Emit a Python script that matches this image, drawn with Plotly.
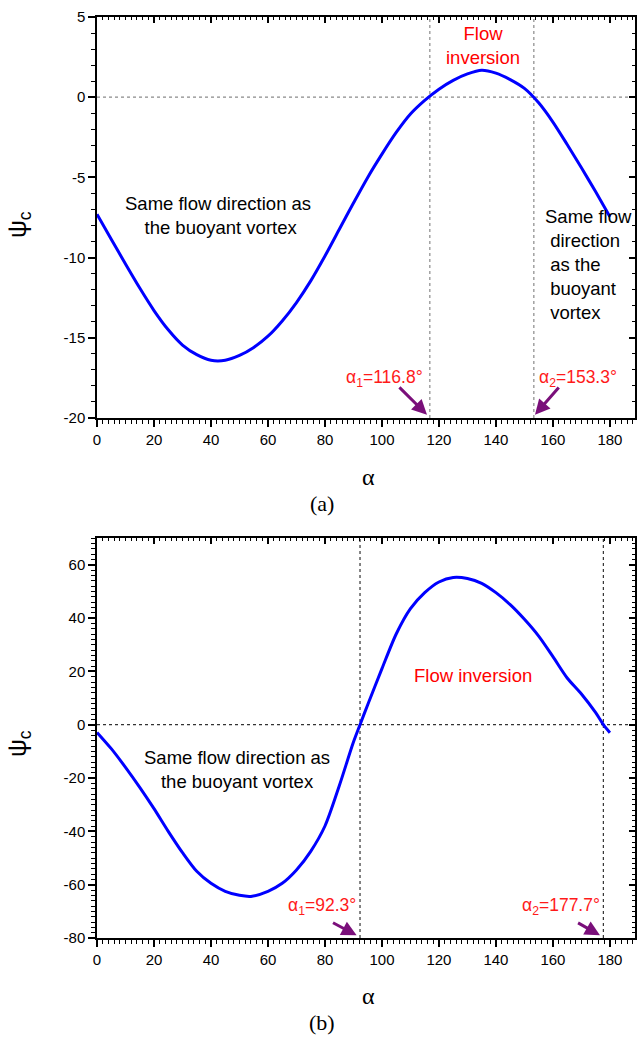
import plotly.graph_objects as go

# ---------------- data ----------------
alpha_a = [0, 5, 10, 15, 20, 25, 30, 35, 40, 45, 50, 55, 60, 65, 70, 75, 80, 85, 90,
           95, 100, 105, 110, 115, 120, 125, 130, 135, 140, 145, 150, 155,
           160, 165, 170, 175, 180]
psi_a = [-7.3, -8.85, -10.4, -11.9, -13.3, -14.5, -15.45, -16.05, -16.4, -16.4, -16.1,
         -15.6, -14.9, -13.95, -12.8, -11.45, -9.9, -8.25, -6.6,
         -5.0, -3.55, -2.2, -1.05, -0.2, 0.5, 1.05, 1.45, 1.68, 1.5, 1.1, 0.55, -0.35,
         -1.55, -2.95, -4.4, -5.9, -7.45]
cross_a = [116.8, 153.3]

alpha_b = [0, 5, 10, 15, 20, 25, 30, 35, 40, 45, 50, 54, 60, 65, 70, 75, 80, 85, 90,
           92.3, 95, 100, 105, 110, 115, 120, 125, 130, 135, 140, 145, 150, 155, 160, 165,
           170, 175, 177.7, 180]
psi_b = [-2.9, -9.0, -16.0, -23.5, -31.5, -40.0, -48.0, -55.0, -59.5, -62.5, -64.0, -64.4,
         -62.5, -59.5, -54.5, -47.5, -38.0, -23.0, -6.5,
         0.0, 7.5, 21.0, 34.0, 43.5, 49.5, 53.5, 55.2, 54.8, 53.0, 49.5, 45.0, 39.5, 33.2, 25.5, 17.5,
         11.5, 4.5, 0.0, -3.0]
cross_b = [92.3, 177.7]

yticks_a = [5, 0, -5, -10, -15, -20]
yticks_b = [60, 40, 20, 0, -20, -40, -60, -80]
xticks = [0, 20, 40, 60, 80, 100, 120, 140, 160, 180]

# ---------------- layout helpers ----------------
W, H = 637, 1038
def py(p):
    return 1 - p / H

XDOM = [97 / W, 635 / W]
YDOM_A = [py(418), py(17)]
YDOM_B = [py(938), py(538)]
XR = [0, 188.8]

SANS = "Liberation Sans, Arial, sans-serif"
SERIF = "Liberation Serif, Times New Roman, serif"

fig = go.Figure()
fig.add_trace(go.Scatter(x=alpha_a, y=psi_a, mode="lines", line=dict(color="#0000ff", width=3, shape="spline", smoothing=0.8),
                         xaxis="x", yaxis="y", showlegend=False, hoverinfo="skip"))
fig.add_trace(go.Scatter(x=alpha_b, y=psi_b, mode="lines", line=dict(color="#0000ff", width=3, shape="spline", smoothing=0.8),
                         xaxis="x2", yaxis="y2", showlegend=False, hoverinfo="skip"))
# empty helper traces so that the mirrored frame axes (top / right) are drawn
for xa, ya in [("x3", "y3"), ("x4", "y4")]:
    fig.add_trace(go.Scatter(x=[None], y=[None], mode="lines", xaxis=xa, yaxis=ya,
                             showlegend=False, hoverinfo="skip"))

tickfont = dict(family=SANS, size=15, color="black")

def xmain(anchor):
    return dict(domain=XDOM, range=XR, anchor=anchor, showgrid=False, zeroline=False, automargin=False,
                showline=True, linecolor="black", linewidth=1.5,
                ticks="outside", ticklen=7, tickwidth=1.5, tickcolor="black",
                tickvals=xticks, ticktext=[str(v) for v in xticks], tickfont=tickfont,
                minor=dict(dtick=2, tick0=0, ticks="outside", ticklen=4, tickwidth=1, tickcolor="black"))

def xmirror(over, anchor):
    return dict(overlaying=over, anchor=anchor, side="top", range=XR, showgrid=False, zeroline=False,
                automargin=False,
                showline=True, linecolor="black", linewidth=1.5, showticklabels=False,
                ticks="inside", ticklen=6, tickwidth=1.5, tickcolor="black", tickvals=xticks,
                minor=dict(dtick=2, tick0=0, ticks="inside", ticklen=3, tickwidth=1, tickcolor="black"))

def ymain(dom, rng, tv, anchor, mdt):
    return dict(domain=dom, range=rng, anchor=anchor, showgrid=False, zeroline=False, automargin=False,
                showline=True, linecolor="black", linewidth=1.5,
                ticks="outside", ticklen=7, tickwidth=1.5, tickcolor="black",
                tickvals=tv, ticktext=[str(v) for v in tv], tickfont=tickfont,
                minor=dict(dtick=mdt, ticks="outside", ticklen=4, tickwidth=1, tickcolor="black"))

def ymirror(over, anchor, rng, tv, mdt):
    return dict(overlaying=over, anchor=anchor, side="right", range=rng, showgrid=False, zeroline=False,
                automargin=False,
                showline=True, linecolor="black", linewidth=1.5, showticklabels=False,
                ticks="inside", ticklen=6, tickwidth=1.5, tickcolor="black", tickvals=tv,
                minor=dict(dtick=mdt, ticks="inside", ticklen=3, tickwidth=1, tickcolor="black"))

fig.update_layout(
    width=W, height=H, margin=dict(l=0, r=0, t=0, b=0, autoexpand=False),
    paper_bgcolor="white", plot_bgcolor="white",
    xaxis=xmain("y"), yaxis=ymain(YDOM_A, [-20, 5], yticks_a, "x", 1),
    xaxis2=xmain("y2"), yaxis2=ymain(YDOM_B, [-80, 70], yticks_b, "x2", 2),
    xaxis3=xmirror("x", "y"), yaxis3=ymirror("y", "x", [-20, 5], yticks_a, 1),
    xaxis4=xmirror("x2", "y2"), yaxis4=ymirror("y2", "x2", [-80, 70], yticks_b, 2),
)

# reference dotted lines
for xr, yr, cr, col in [("x", "y", cross_a, "#8a8a8a"), ("x2", "y2", cross_b, "#333333")]:
    fig.add_shape(type="line", xref=xr + " domain", yref=yr, x0=0, x1=1, y0=0, y1=0,
                  line=dict(color=col, width=1.2, dash="dot"), layer="below")
    for c in cr:
        fig.add_shape(type="line", xref=xr, yref=yr + " domain", x0=c, x1=c, y0=0, y1=1,
                      line=dict(color=col, width=1.2, dash="dot"), layer="below")

TXT = 18.5
ann = []
def text(xr, yr, x, y, s, color="black", size=TXT, xanchor="center", align="center", family=SANS):
    ann.append(dict(xref=xr, yref=yr, x=x, y=y, text=s, showarrow=False, xanchor=xanchor,
                    yanchor="middle", align=align, font=dict(family=family, size=size, color=color)))

def arrow(xr, yr, x, y, ax, ay):
    ann.append(dict(xref=xr, yref=yr, axref=xr, ayref=yr, x=x, y=y, ax=ax, ay=ay, text="",
                    showarrow=True, arrowhead=2, arrowsize=1, arrowwidth=3, arrowcolor="#7a0f7a"))

# panel (a)
text("x", "y", 42.5, -7.4, "Same flow direction as<br> the buoyant vortex")
text("x", "y", 135.4, 3.25, "Flow<br>inversion", color="#ff0000")
text("x", "y", 156.5, -10.46, "Same flow<br> direction<br> as the<br> buoyant<br> vortex", xanchor="left", align="left")
text("x", "y", 101, -17.55, "α<sub>1</sub>=%.1f°" % cross_a[0], color="#ff1a1a", size=17.5)
text("x", "y", 154.3, -17.55, "α<sub>2</sub>=%.1f°" % cross_a[1], color="#ff1a1a", size=17.5, xanchor="left")
arrow("x", "y", 115.8, -19.8, 105.6, -18.0)
arrow("x", "y", 153.7, -19.8, 162.5, -18.0)

# panel (b)
text("x2", "y2", 49.1, -16.9, "Same flow direction as<br>the buoyant vortex")
text("x2", "y2", 132, 18.4, "Flow inversion", color="#ff0000")
text("x2", "y2", 79, -68.2, "α<sub>1</sub>=%.1f°" % cross_b[0], color="#ff1a1a", size=17.5)
text("x2", "y2", 162.8, -68.2, "α<sub>2</sub>=%.1f°" % cross_b[1], color="#ff1a1a", size=17.5)
arrow("x2", "y2", 91.1, -79, 82.3, -74)
arrow("x2", "y2", 176.5, -79, 168.3, -74)

# axis titles and panel labels
for yc in [225, 744]:
    ann.append(dict(xref="paper", yref="paper", x=19 / W, y=py(yc), text="ψ<sub>c</sub>", showarrow=False,
                    textangle=-90, xanchor="center", yanchor="middle",
                    font=dict(family=SANS, size=25, color="black")))
for yc in [477, 996]:
    text("paper", "paper", 368 / W, py(yc), "α", size=24, family=SERIF)
text("paper", "paper", 322 / W, py(503), "(a)", size=22, family=SERIF)
text("paper", "paper", 322 / W, py(1022), "(b)", size=22, family=SERIF)

fig.update_layout(annotations=ann)
fig.write_html("out.html", config={"displayModeBar": False},
               post_script="document.body.style.margin='0';document.body.style.overflow='hidden';")
